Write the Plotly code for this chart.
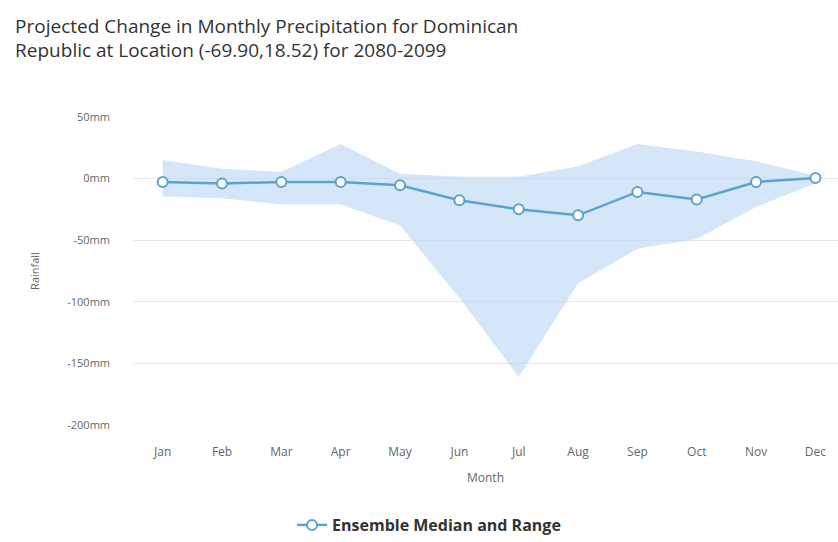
import plotly.graph_objects as go

months = ["Jan", "Feb", "Mar", "Apr", "May", "Jun", "Jul", "Aug", "Sep", "Oct", "Nov", "Dec"]
median_mm = [-2.7, -4.0, -2.7, -2.7, -5.4, -17.6, -24.9, -29.8, -10.8, -17.0, -2.7, 0.5]
upper_mm = [15, 8, 5.5, 28, 4, 1.6, 1.5, 10, 28, 22, 14, 2.5]
lower_mm = [-14.6, -16, -21, -21, -38, -97, -161, -85, -57, -49, -23, -4]
y_ticks = [50, 0, -50, -100, -150, -200]
y_tick_text = [f"{v}mm" for v in y_ticks]

line_color = "#5ba3cf"
band_color = "rgba(185, 213, 244, 0.6)"

fig = go.Figure()

# Ensemble range as a filled band between lower and upper bounds
fig.add_trace(go.Scatter(
    x=months, y=lower_mm, mode="lines", line=dict(width=0),
    showlegend=False, hoverinfo="skip",
))
fig.add_trace(go.Scatter(
    x=months, y=upper_mm, mode="lines", line=dict(width=0),
    fill="tonexty", fillcolor=band_color,
    showlegend=False, hoverinfo="skip",
))

# Ensemble median
fig.add_trace(go.Scatter(
    x=months, y=median_mm, mode="lines+markers",
    name="Ensemble Median and Range",
    line=dict(color=line_color, width=2.5),
    marker=dict(symbol="circle", size=10, color="white",
                line=dict(color=line_color, width=2)),
))

fig.update_layout(
    width=838, height=542,
    paper_bgcolor="white", plot_bgcolor="white",
    font=dict(family="Open Sans, sans-serif", color="#666666", size=11),
    title=dict(
        text="Projected Change in Monthly Precipitation for Dominican<br>Republic at Location (-69.90,18.52) for 2080-2099",
        x=0.018, xanchor="left", y=0.94, yanchor="top",
        font=dict(family="Open Sans, sans-serif", size=19, color="#333333"),
    ),
    margin=dict(l=133, r=0, t=117, b=117),
    xaxis=dict(
        type="category", range=[-0.5, 11.38],
        showgrid=False, zeroline=False, showline=False, ticks="",
        ticklabelstandoff=18,
        tickfont=dict(size=12, color="#666666"),
        title=dict(text="Month", font=dict(size=12, color="#666666"), standoff=14),
    ),
    yaxis=dict(
        range=[-200, 50], tickvals=y_ticks, ticktext=y_tick_text,
        showgrid=True, gridcolor="#e6e6e6", gridwidth=1,
        zeroline=False, showline=False, ticks="",
        ticklabelstandoff=22,
        tickfont=dict(size=11, color="#666666"),
        title=dict(text="Rainfall", font=dict(size=11, color="#666666"), standoff=25),
    ),
    legend=dict(
        orientation="h", xref="container", yref="container",
        x=0.512, xanchor="center", y=0.0, yanchor="bottom",
        itemwidth=30,
        font=dict(size=16, color="#333333", family="Open Sans, sans-serif", weight="bold"),
    ),
)

fig.write_html("out.html")
